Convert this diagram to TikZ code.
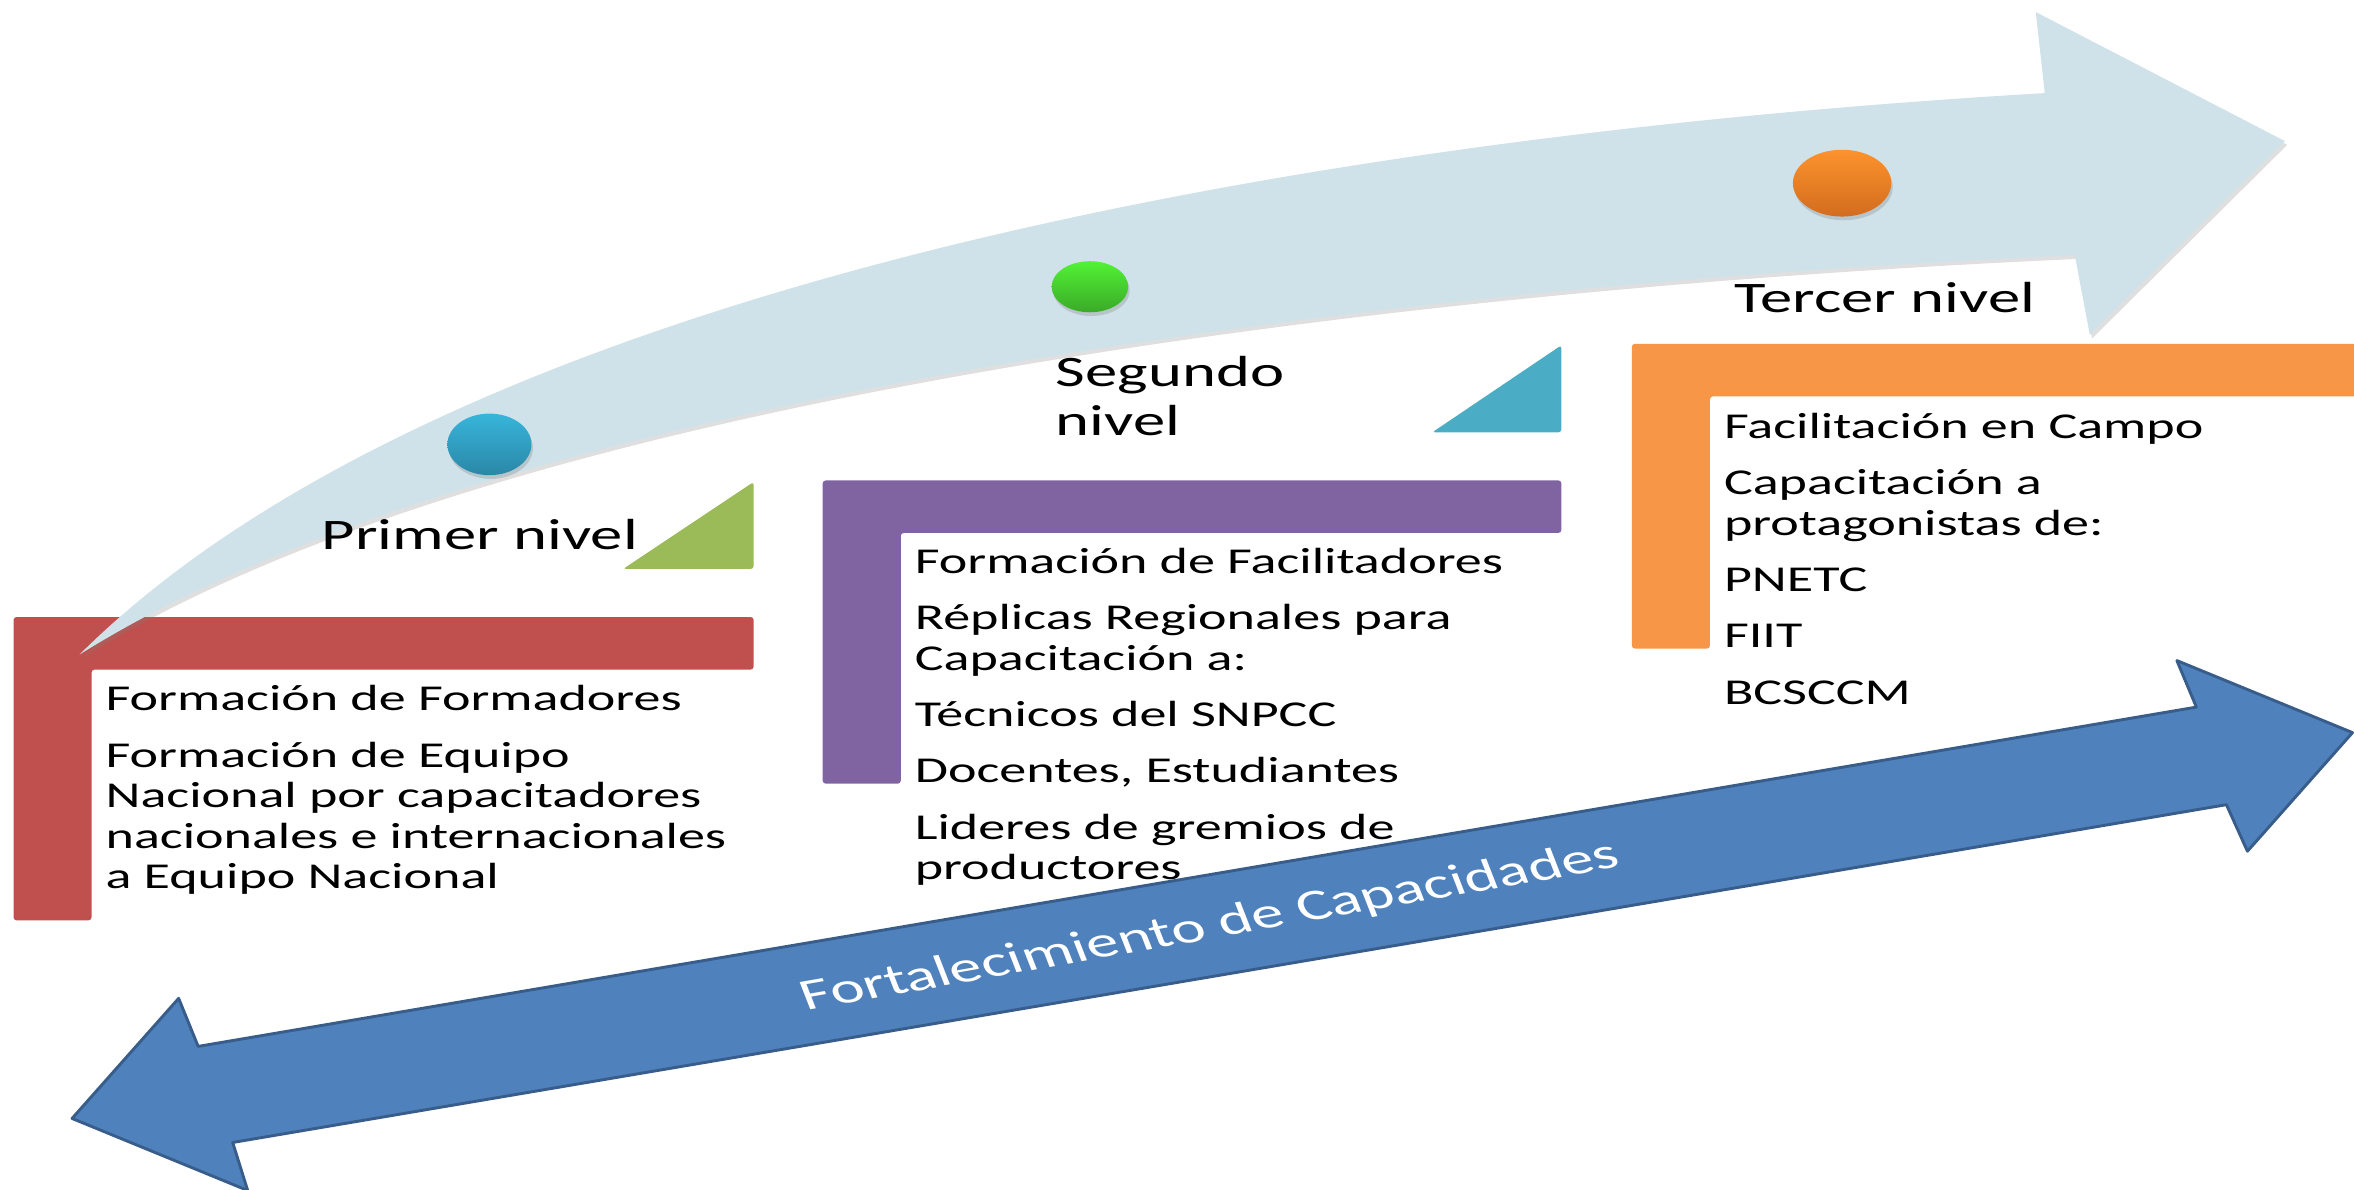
\documentclass[tikz,border=0pt]{standalone}
\usepackage{fontspec}
\setmainfont{Carlito}[FakeStretch=1.485]
\newfontfamily\plainfont{Carlito}
\usetikzlibrary{shapes.geometric,shadows}

\definecolor{rojo}{HTML}{C0504D}
\definecolor{morado}{HTML}{8064A2}
\definecolor{naranja}{HTML}{F79646}
\definecolor{verdetri}{HTML}{9BBB59}
\definecolor{celeste}{HTML}{4BACC6}
\definecolor{flechaclara}{HTML}{D0E2E9}
\definecolor{azul}{HTML}{4F81BD}
\definecolor{azulborde}{HTML}{385D8A}
\definecolor{puntoazulA}{HTML}{38B5DB}
\definecolor{puntoazulB}{HTML}{2A87A6}
\definecolor{puntoverdeA}{HTML}{52F235}
\definecolor{puntoverdeB}{HTML}{3AAA28}
\definecolor{puntonarA}{HTML}{FD932D}
\definecolor{puntonarB}{HTML}{D26C1F}

\begin{document}
\begin{tikzpicture}[x=0.2mm,y=-0.2mm,
    bloque/.style={rounded corners=0.4mm},
    lista/.style={anchor=base west,inner sep=0pt,align=left,font=\fontsize{13.8}{15.37}\selectfont},
    nivel/.style={anchor=base west,inner sep=0pt,align=left,font=\fontsize{16.5}{18.4}\selectfont},
    punto/.style={ellipse,inner sep=0pt,drop shadow={shadow xshift=0.2mm,shadow yshift=-0.5mm,opacity=0.3}}]
  \clip (0,0) rectangle (1568,792);
  % barras en L
  \fill[rojo,bloque] (9,411) -- (502,411) -- (502,446) -- (61,446) -- (61,613) -- (9,613) -- cycle;
  \fill[morado,bloque] (548,320) -- (1040,320) -- (1040,355) -- (600,355) -- (600,522) -- (548,522) -- cycle;
  \fill[naranja,bloque] (1087,229) -- (1600,229) -- (1600,264) -- (1139,264) -- (1139,432) -- (1087,432) -- cycle;
  % triangulos
  \fill[verdetri,bloque] (415,379) -- (502,379) -- (502,321) -- cycle;
  \fill[celeste,bloque] (954,288) -- (1040,288) -- (1040,230) -- cycle;
  % flecha curva
  \fill[flechaclara,drop shadow={shadow xshift=0.3mm,shadow yshift=-0.5mm,opacity=0.25}]
    (53,436) .. controls (280,210) and (800,95) .. (1362,62)
    -- (1356,8) -- (1522,94) -- (1392,223) -- (1382,170)
    .. controls (932,190) and (330,262) .. (53,436) -- cycle;
  % puntos
  \node[punto,minimum width=11.2mm,minimum height=8.2mm,top color=puntoazulA,bottom color=puntoazulB] (puntouno) at (326,296) {};
  \node[punto,minimum width=10.2mm,minimum height=6.8mm,top color=puntoverdeA,bottom color=puntoverdeB] (puntodos) at (726,191) {};
  \node[punto,minimum width=13.1mm,minimum height=8.9mm,top color=puntonarA,bottom color=puntonarB] (puntotres) at (1227,122) {};
  % niveles
  \node[nivel] (nivuno) at (214,366) {Primer nivel};
  \node[nivel] (nivdos) at (703,290) {Segundo\\nivel};
  \node[nivel] (nivtres) at (1155,208) {Tercer nivel};
  % textos
  \node[lista] (txtuno) at (70,592) {Formación de Formadores\\[2.2mm]
    Formación de Equipo\\Nacional por capacitadores\\nacionales e internacionales\\a Equipo Nacional};
  \node[lista] (txtdos) at (609,586) {Formación de Facilitadores\\[2.1mm]
    Réplicas Regionales para\\Capacitación a:\\[2.1mm]
    Técnicos del SNPCC\\[2.1mm]Docentes, Estudiantes\\[2.1mm]
    Lideres de gremios de\\productores};
  \node[lista] (txttres) at (1148,469) {Facilitación en Campo\\[2.1mm]
    Capacitación a\\protagonistas de:\\[2.1mm]
    PNETC\\[2.1mm]FIIT\\[2.1mm]BCSCCM};
  % flecha doble
  \draw[fill=azul,draw=azulborde,line width=1.1pt,line join=round]
    (48,745) -- (119,665) -- (132,697) -- (1463,471) -- (1450,440) -- (1567,488)
    -- (1497,567) -- (1483,536) -- (155,761) -- (165,793) -- cycle;
  \begin{scope}[xscale=1.485]
    \node[transform shape,rotate=14.7,anchor=base,inner sep=0pt,text=white,
      font=\plainfont\fontsize{16.6}{19}\selectfont] (capacidades) at (544.8,625) {Fortalecimiento de Capacidades};
  \end{scope}
\end{tikzpicture}
\end{document}
